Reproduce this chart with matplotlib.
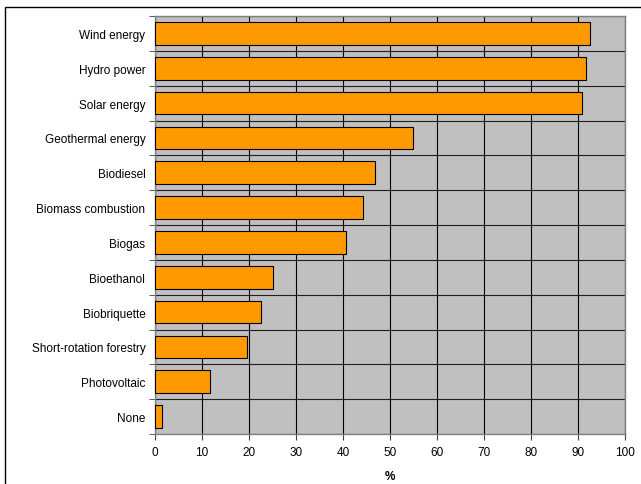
import matplotlib.pyplot as plt
import numpy as np
from matplotlib.patches import Rectangle

plt.rcParams['font.family'] = ['Liberation Sans', 'DejaVu Sans']

categories = ["Wind energy", "Hydro power", "Solar energy", "Geothermal energy",
              "Biodiesel", "Biomass combustion", "Biogas", "Bioethanol",
              "Biobriquette", "Short-rotation forestry", "Photovoltaic", "None"]
values = [92.6, 91.8, 90.8, 54.8, 46.8, 44.2, 40.6, 25.0, 22.6, 19.5, 11.6, 1.5]
x_ticks = [0, 10, 20, 30, 40, 50, 60, 70, 80, 90, 100]


def main():
    fig = plt.figure(figsize=(6.41, 4.85), dpi=100)
    ax = fig.add_axes([155 / 641, 1 - 435 / 485, 470 / 641, 418 / 485])

    # outer frame around the whole chart
    fig.patches.append(Rectangle((5 / 641, -0.01), 1.0, 1 - 8 / 485 + 0.01,
                                 transform=fig.transFigure, fill=False,
                                 edgecolor='black', linewidth=1.0))

    ypos = np.arange(len(categories))
    ax.set_facecolor('#C0C0C0')
    ax.barh(ypos, values, height=0.65, color='#FF9900', edgecolor='black',
            linewidth=0.8, zorder=3)

    ax.set_xlim(0, 100)
    ax.set_ylim(len(categories) - 0.5, -0.5)
    ax.set_xticks(x_ticks)
    ax.set_xticklabels([str(t) for t in x_ticks], fontsize=8.5)
    ax.set_yticks(ypos)
    ax.set_yticklabels(categories, fontsize=8.5)
    ax.tick_params(axis='y', length=0, pad=7)
    ax.set_yticks(np.arange(-0.5, len(categories), 1.0), minor=True)
    ax.tick_params(axis='y', which='minor', length=4, direction='out', color='#404040')
    ax.tick_params(axis='x', length=4, color='#404040', pad=5)

    ax.grid(axis='x', which='major', color='black', linewidth=0.8, zorder=1)
    ax.grid(axis='y', which='minor', color='#202020', linewidth=0.8, zorder=1)
    ax.set_axisbelow(True)
    for s in ax.spines.values():
        s.set_color('#808080')
        s.set_linewidth(1.0)

    ax.set_xlabel("%", fontsize=8.5, fontweight='bold', labelpad=8)

    fig.savefig("out.png", dpi=100)


if __name__ == "__main__":
    main()
